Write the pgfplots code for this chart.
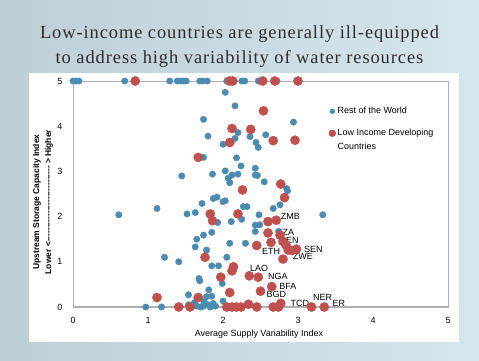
\documentclass[border=0pt]{standalone}
\usepackage{pgfplots}
\pgfplotsset{compat=1.18}
\usepackage{fontspec}
\setmainfont{Liberation Sans}
\newfontfamily\titlefont[LetterSpace=5]{Liberation Serif}
\definecolor{rowblue}{RGB}{74,139,176}
\definecolor{licred}{RGB}{192,80,77}
\definecolor{axgray}{RGB}{175,175,175}
\definecolor{bgleft}{RGB}{190,206,215}
\definecolor{bgright}{RGB}{214,230,237}
\definecolor{titlegray}{RGB}{45,45,45}
\pgfplotsset{
  dotlegend/.style={legend image code/.code={\draw[##1] plot coordinates {(0pt,0pt)};}},
  uplegend/.style={legend image code/.code={\draw[##1] plot coordinates {(0pt,7bp)};}},
}
\begin{document}
\begin{tikzpicture}[x=1bp,y=1bp]
\path[use as bounding box] (0,0) rectangle (479,360);
\shade[left color=bgleft,right color=bgright] (0,0) rectangle (479,360);
\fill[white] (29,18) rectangle (459,287);
\node[anchor=base,text=titlegray,font=\titlefont\fontsize{18.5}{20}\selectfont] at (239.5,322) {Low-income countries are generally ill-equipped};
\node[anchor=base,text=titlegray,font=\titlefont\fontsize{18.5}{20}\selectfont] at (239.5,297) {to address high variability of water resources};
\node[font=\fontsize{9}{10}\selectfont] at (259,26) {Average Supply Variability Index};
\node[rotate=90,font=\bfseries\fontsize{8.5}{10}\selectfont] at (37,158) {Upstream Storage Capacity Index};
\node[rotate=90,font=\bfseries\fontsize{8.5}{10}\selectfont] at (49,158) {Lower {<}\hbox to 78bp{\leaders\hbox{-}\hfil}{>} Higher};
\begin{axis}[at={(73bp,53bp)},anchor=south west,scale only axis,
  width=375bp,height=226bp,
  xmin=0,xmax=5,ymin=0,ymax=5,
  xtick={0,1,2,3,4,5},ytick={0,1,2,3,4,5},
  major tick length=0pt,
  axis line style={axgray,line width=0.8bp},
  clip=false,
  /pgf/number format/assume math mode=true,
  tick label style={font=\fontsize{9}{10}\selectfont},
  xticklabel style={yshift=-7bp},
  yticklabel style={xshift=-7bp},
  legend style={at={(axis cs:3.37,4.51)},anchor=north west,draw=none,fill=none,
    font=\fontsize{9}{14}\selectfont,row sep=10bp,
    cells={anchor=west,align=left}},
]
\draw[axgray,line width=2bp] (rel axis cs:0,0) -- (rel axis cs:1,0);
\addplot[only marks,mark=*,color=rowblue,mark size=3.2bp,dotlegend,legend image post style={mark size=2.4bp}] table {
x y
0 5
0.04 5
0.08 5
0.69 5
1.29 5
1.39 5
1.43 5
1.47 5
1.51 5
1.69 5
1.73 5
1.79 5
2.05 5
2.25 5
2.29 5
2.47 5
2.72 5
2.03 4.75
2.16 4.45
1.74 4.15
2.94 4.09
2.20 3.86
1.80 3.78
2.16 3.73
2.00 3.60
2.36 3.77
2.44 3.64
2.47 3.53
2.57 3.81
1.74 3.31
2.18 3.30
2.24 3.12
2.03 3.01
2.43 3.07
1.45 2.90
1.86 2.94
2.07 2.85
2.12 2.92
2.20 2.94
2.09 2.75
2.43 2.92
2.46 2.91
2.55 2.77
2.85 2.62
2.86 2.57
1.87 2.40
1.92 2.43
2.00 2.33
2.03 2.35
1.72 2.29
2.27 2.22
2.32 2.22
1.12 2.18
2.76 2.26
2.67 2.18
0.61 2.04
1.52 2.06
1.63 2.09
1.93 1.87
2.11 1.89
2.25 1.94
2.48 2.04
2.43 1.81
3.33 2.04
2.49 1.82
2.43 1.67
1.65 1.50
1.74 1.59
1.85 1.65
1.63 1.33
1.78 1.26
2.09 1.41
2.30 1.41
2.74 1.67
1.22 1.10
1.41 1.00
1.85 0.91
1.94 0.91
2.05 1.10
1.68 0.63
1.69 0.58
1.99 0.52
1.54 0.27
1.81 0.38
1.78 0.23
1.85 0.24
2.00 0.13
1.54 0.05
1.60 0.03
1.65 0.02
1.70 0.00
1.74 0.02
1.80 0.05
1.83 0.00
1.62 0.10
1.75 0.12
1.87 0.08
1.90 0.02
0.97 0
1.18 0
};
\addlegendentry{Rest of the World}
\addplot[only marks,mark=*,color=licred,mark size=4.6bp,uplegend,legend image post style={mark size=3.4bp}] table {
x y
0.83 5
2.09 5
2.13 5
2.53 5
2.69 5
3.00 5
2.54 4.34
2.12 3.95
2.37 3.93
2.67 3.68
2.96 3.69
2.09 3.64
1.67 3.31
2.26 2.59
2.77 2.72
2.82 2.42
1.83 2.06
1.86 1.91
2.20 2.06
2.60 1.89
2.71 1.92
2.60 1.64
2.64 1.43
2.76 1.59
2.45 1.36
2.80 1.45
2.84 1.37
2.87 1.26
2.92 1.25
2.98 1.28
2.80 1.06
1.76 1.10
2.14 0.89
2.12 0.80
1.97 0.66
2.35 0.69
2.47 0.66
2.65 0.45
2.50 0.35
2.09 0.32
1.12 0.21
1.67 0.21
1.41 0
1.56 0
2.05 0
2.12 0
2.18 0
2.24 0
2.34 0.06
2.45 0
2.67 0
2.74 0
2.77 0.08
3.18 0
3.35 0
};
\addlegendentry{Low Income Developing\\Countries}
\begin{scope}[every node/.style={anchor=west,inner sep=0pt,font=\fontsize{9}{10}\selectfont}]
\node at (axis cs:2.77,2.00) {ZMB};
\node at (axis cs:2.72,1.64) {TZA};
\node at (axis cs:2.76,1.47) {KEN};
\node at (axis cs:2.52,1.24) {ETH};
\node at (axis cs:3.08,1.28) {SEN};
\node at (axis cs:2.93,1.13) {ZWE};
\node at (axis cs:2.36,0.86) {LAO};
\node at (axis cs:2.60,0.67) {NGA};
\node at (axis cs:2.75,0.45) {BFA};
\node at (axis cs:2.58,0.27) {BGD};
\node at (axis cs:2.90,0.08) {TCD};
\node at (axis cs:3.20,0.21) {NER};
\node at (axis cs:3.46,0.08) {ER};
\end{scope}
\end{axis}
\end{tikzpicture}
\end{document}
